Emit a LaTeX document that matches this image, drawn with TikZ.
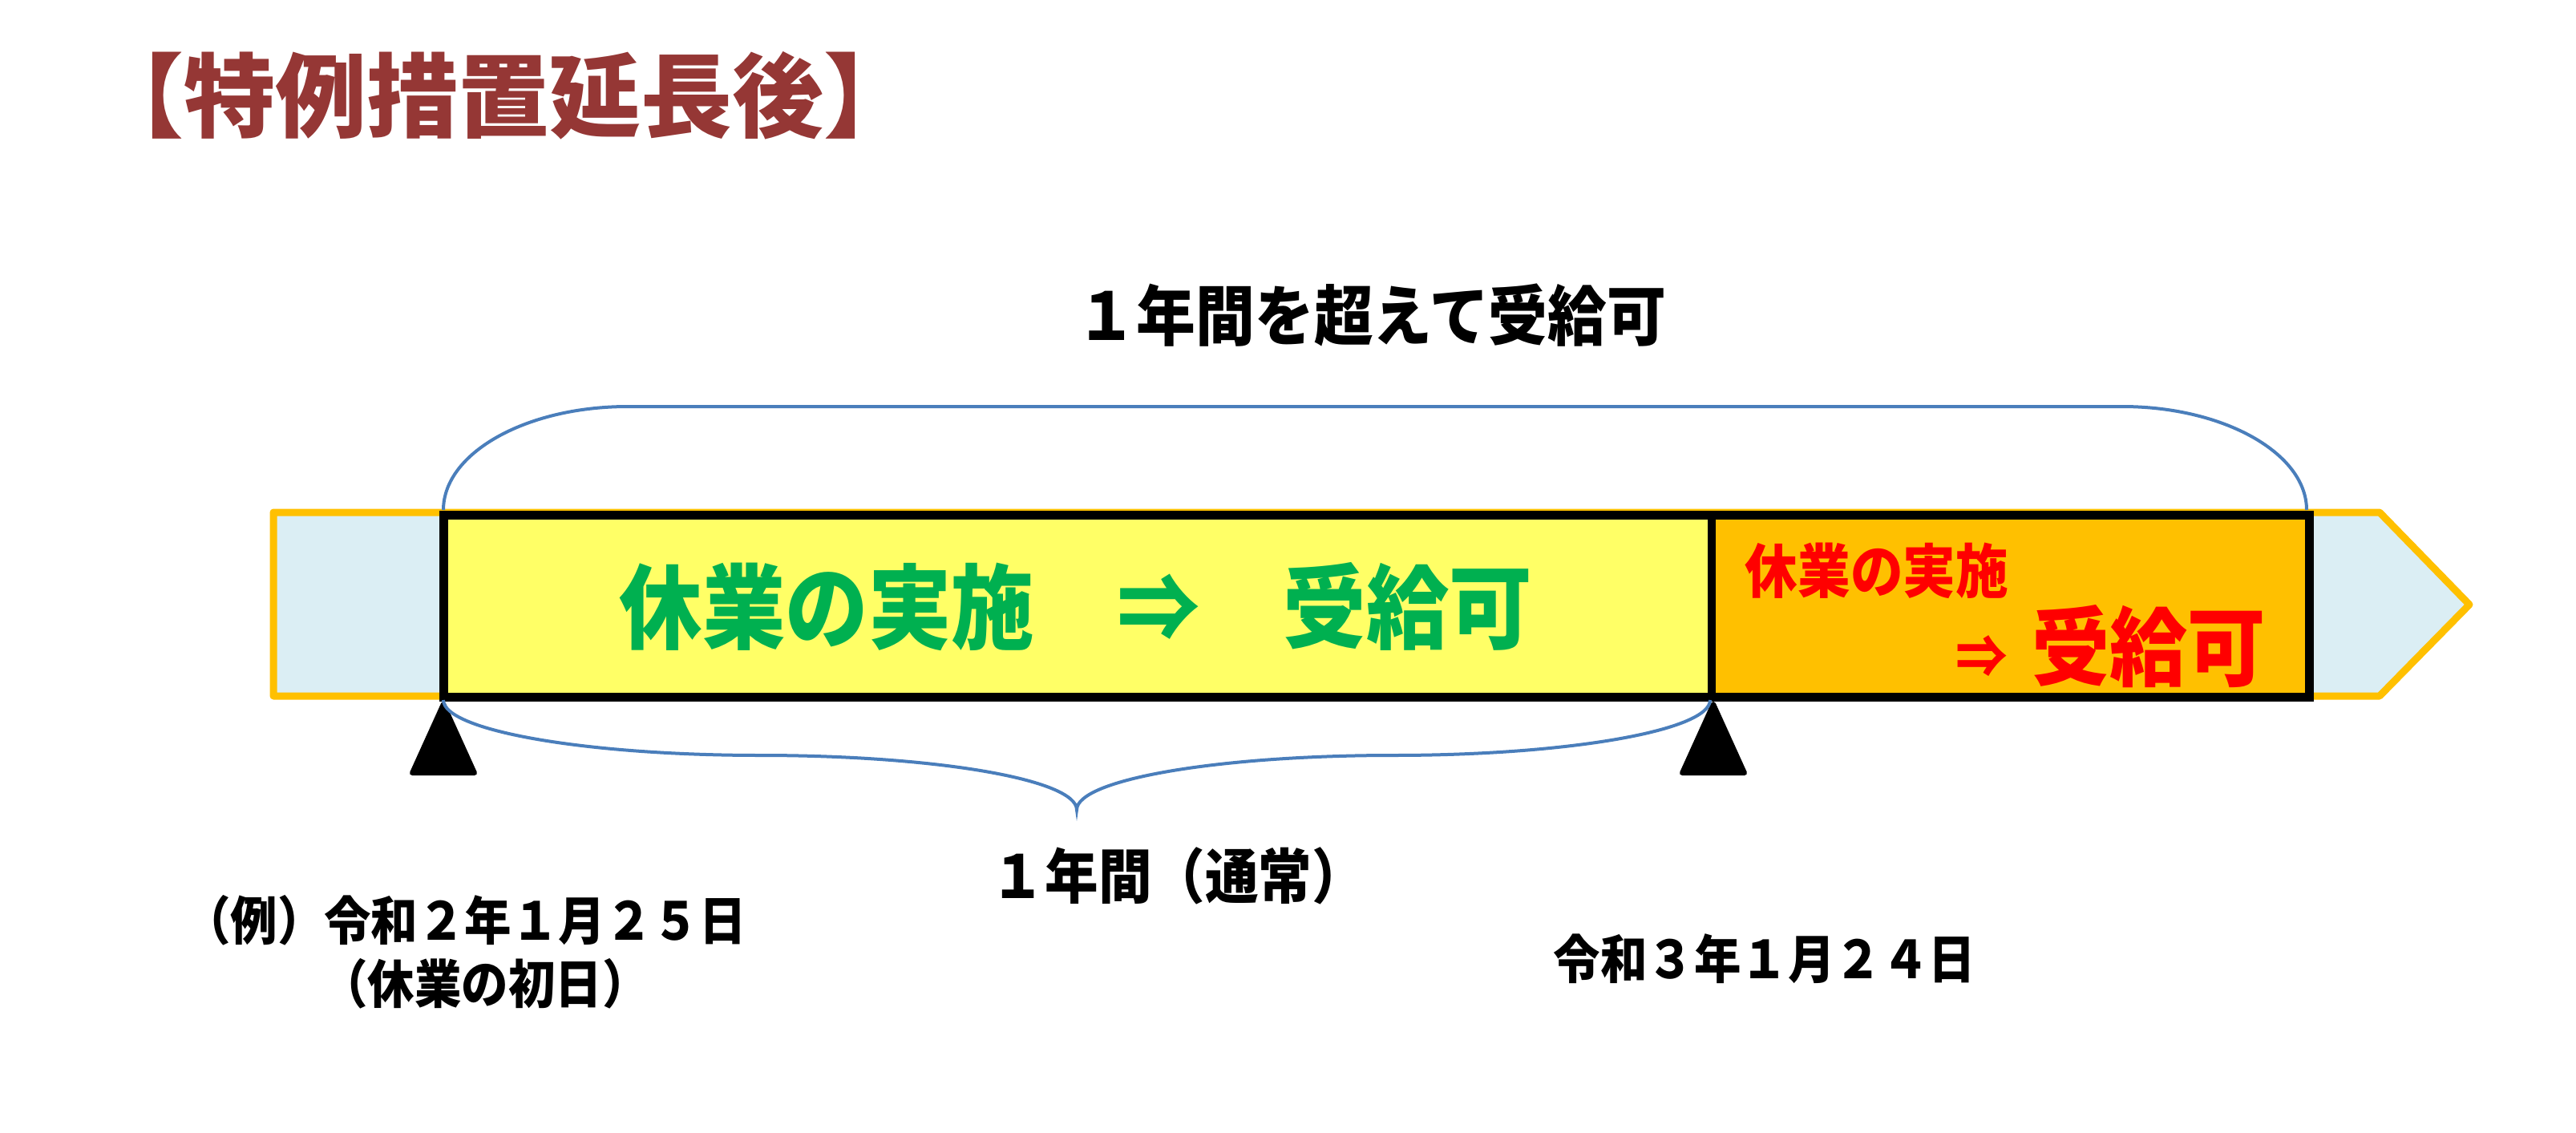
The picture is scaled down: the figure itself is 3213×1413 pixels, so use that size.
\documentclass[tikz,border=0pt]{standalone}
\usepackage{fontspec}
\newfontfamily\jp{Noto Sans CJK JP Black}[FakeStretch=0.9]
\newfontfamily\jpwide{Noto Sans CJK JP Black}
\definecolor{titlered}{HTML}{953735}
\definecolor{lblue}{HTML}{DBEEF4}
\definecolor{ppyellow}{HTML}{FFFF66}
\definecolor{pporange}{HTML}{FFC000}
\definecolor{ppgreen}{HTML}{00B050}
\definecolor{ppred}{HTML}{FF0000}
\definecolor{braceblue}{HTML}{4A7EBB}
\tikzset{
  txt/.style={inner sep=0pt, font=\jp},
  bracelinestyle/.style={draw=braceblue, line width=4pt},
  marker/.style={fill=black, draw=black, line width=6pt, line join=round},
}
\newcommand{\fsz}[1]{\fontsize{#1}{#1}\selectfont}
\begin{document}
\begin{tikzpicture}[x=1pt,y=-1pt]
\useasboundingbox (0,0) rectangle (3213,1413);
\fill[white] (0,0) rectangle (3213,1413);
% coordinates
\coordinate (bTL) at (553,642);
\coordinate (bBL) at (553,869);
\coordinate (bTR) at (2880,642);
\coordinate (bBR) at (2880,869);
\coordinate (dT) at (2135,642);
\coordinate (dB) at (2135,869);
% outer arrow
\draw[fill=lblue, draw=pporange, line width=9pt, line join=round]
  (341,639) -- (2968,639) -- (3080,754) -- (2968,868) -- (341,868) -- cycle;
% box
\fill[ppyellow] (bTL) rectangle (dB);
\fill[pporange] (dT) rectangle (bBR);
\draw[line width=11pt, line join=miter] (bTL) rectangle (bBR);
\draw[line width=10pt] (dT) -- (dB);
% markers
\draw[marker] (553,878) -- (514,964) -- (592,964) -- cycle;
\draw[marker] (2137,878) -- (2098,964) -- (2176,964) -- cycle;
% top bracket
\coordinate (tA) at (553,636);
\coordinate (tB) at (2877,636);
\draw[bracelinestyle] (tA) .. controls (553,565) and (656,507) .. (783,507)
  -- (2647,507) .. controls (2773,507) and (2877,565) .. (tB);
% bottom brace
\coordinate (uA) at (553,873);
\coordinate (uT) at (1343,1010);
\coordinate (uB) at (2133,873);
\draw[bracelinestyle] (uA) .. controls (553,911) and (730,942) .. (948,942)
  .. controls (1166,942) and (1343,972) .. (uT)
  .. controls (1343,972) and (1520,942) .. (1738,942)
  .. controls (1956,942) and (2133,911) .. (uB);
% texts
\node[txt, text=titlered, font=\jpwide\fsz{114}] (title) at (628,119) {【特例措置延長後】};
\node[txt, font=\jp\fsz{82}] (over) at (1711,393) {１年間を超えて受給可};
\node[txt, text=ppgreen, font=\jp\fsz{115}] (main) at (1342,757) {休業の実施　⇒　受給可};
\node[txt, text=ppred, font=\jp\fsz{73}] (ext1) at (2341,712) {休業の実施};
\node[txt, text=ppred, font=\jp\fsz{72}] (extarrow) at (2472,819) {⇒};
\node[txt, text=ppred, font=\jp\fsz{108}] (ext2) at (2680,806) {受給可};
\node[txt, font=\jp\fsz{74}] (normal) at (1470,1092) {１年間（通常）};
\node[txt, font=\jp\fsz{65}] (start1) at (580,1148) {（例）令和２年１月２５日};
\node[txt, font=\jp\fsz{65}] (start2) at (605,1227) {（休業の初日）};
\node[txt, font=\jp\fsz{65}] (endd) at (2201,1196) {令和３年１月２４日};
\end{tikzpicture}
\end{document}
